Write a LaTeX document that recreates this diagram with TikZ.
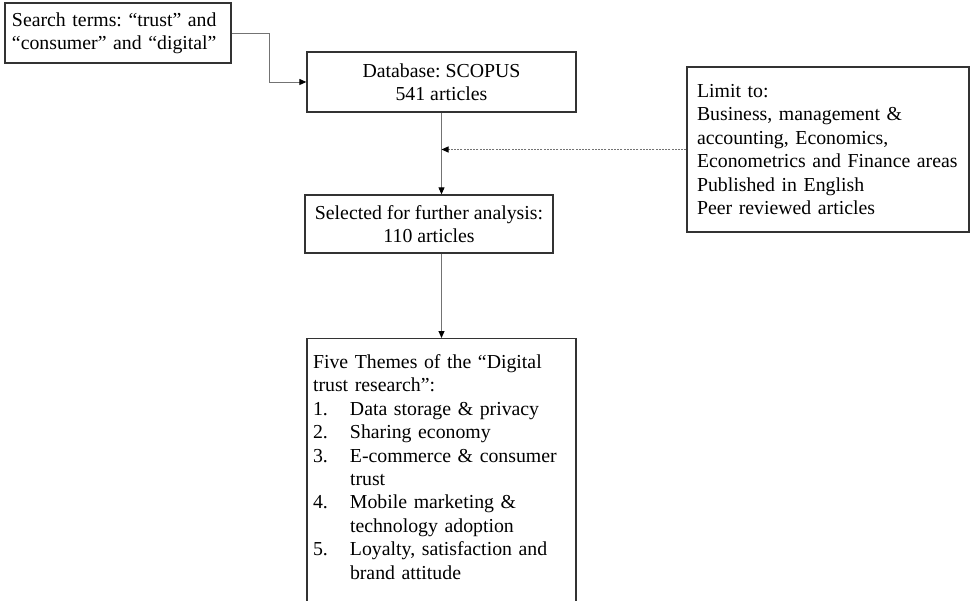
\documentclass[tikz,border=0pt]{standalone}
\usepackage{fontspec}
\setmainfont{Liberation Serif}
\usetikzlibrary{arrows.meta}
\frenchspacing
\begin{document}
\begin{tikzpicture}[x=1pt,y=-1pt,
  box/.style={draw=black!80, line width=1.3pt, inner sep=0pt, font=\fontsize{19.8}{23.4}\selectfont},
  conn/.style={draw=black!55, line width=0.9pt, -{Triangle[length=7pt,width=6pt,color=black]}},
  dconn/.style={conn, dash pattern=on 2pt off 1.2pt}
 ]
\clip (0,0) rectangle (973,601);
\node[box, minimum width=226, minimum height=60, align=left, text width=212] (st) at (118,33)
  {Search terms: “trust” and\\“consumer” and “digital”};
\node[box, minimum width=269, minimum height=60, align=center] (db) at (441.5,82)
  {Database: SCOPUS\\541 articles};
\node[box, minimum width=248, minimum height=58, align=center] (sel) at (429,224)
  {Selected for further analysis:\\110 articles};
\node[box, minimum width=282, minimum height=165, align=left, text width=262] (lim) at (828,149.5)
  {Limit to:\\Business, management \&\\accounting, Economics,\\Econometrics and Finance areas\\Published in English\\Peer reviewed articles};
\node[box, minimum width=269, inner ysep=16pt, align=left, text width=257, anchor=north] (th) at (441.5,338)
  {Five Themes of the “Digital\\trust research”:\\
   \makebox[37pt][l]{1.}Data storage \& privacy\\
   \makebox[37pt][l]{2.}Sharing economy\\
   \makebox[37pt][l]{3.}E-commerce \& consumer\\
   \hspace*{37pt}trust\\
   \makebox[37pt][l]{4.}Mobile marketing \&\\
   \hspace*{37pt}technology adoption\\
   \makebox[37pt][l]{5.}Loyalty, satisfaction and\\
   \hspace*{37pt}brand attitude\\ \mbox{}};
\coordinate (m) at (db.south |- lim.west);
\draw[conn] (st.east) -- ++(38,0) |- (db.west);
\draw[conn] (db.south) -- (db.south |- sel.north);
\draw[dconn] (lim.west) -- (m);
\draw[conn] (db.south |- sel.south) -- (db.south |- th.north);
\end{tikzpicture}
\end{document}
